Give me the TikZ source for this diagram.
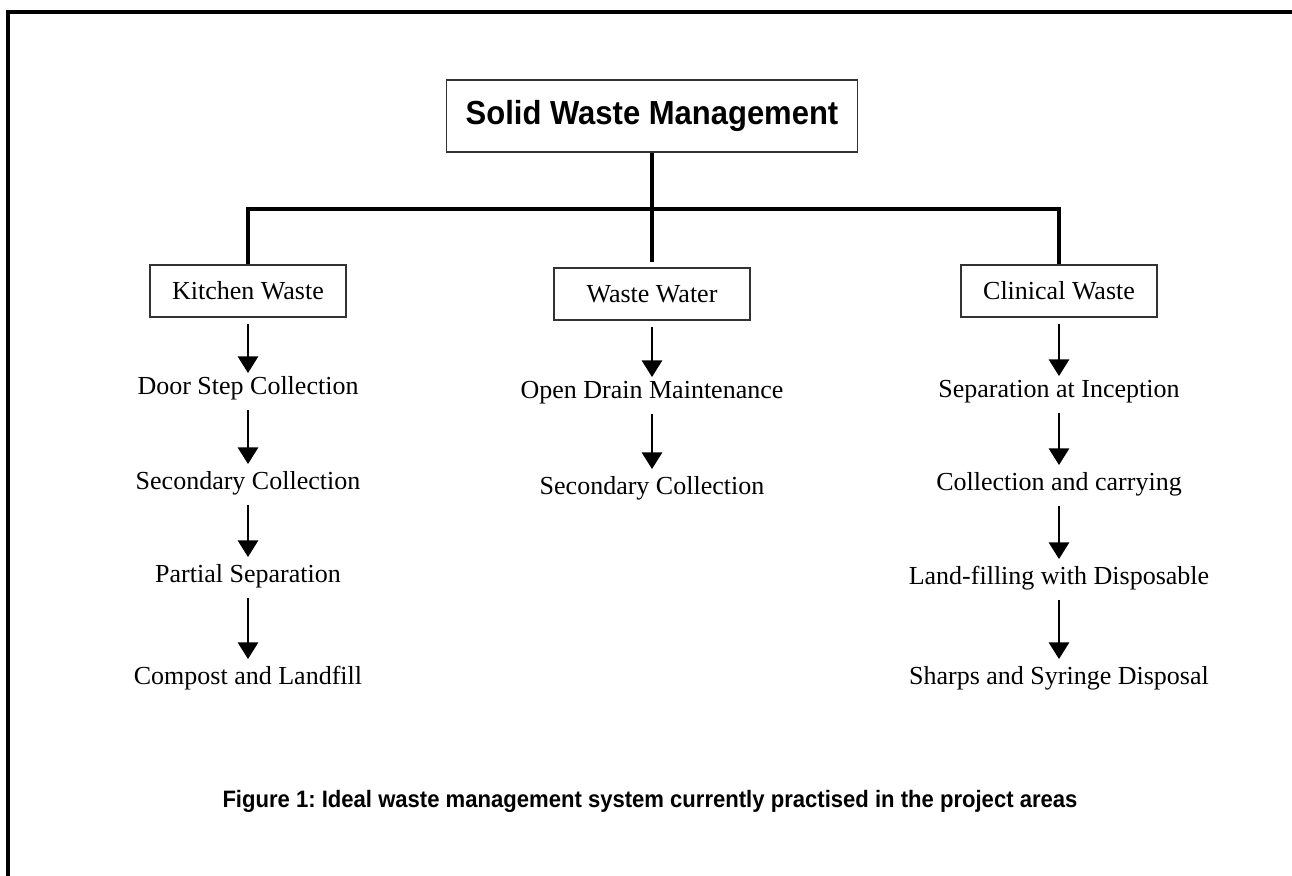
\documentclass[tikz,border=0pt]{standalone}
\usepackage{fontspec}
\setmainfont{Liberation Serif}
\newfontfamily\gothic[FakeStretch=0.93]{Liberation Sans}
\usetikzlibrary{arrows.meta,positioning}
\frenchspacing

\begin{document}
\begin{tikzpicture}[x=0.75pt,y=-0.75pt,
    wbox/.style={draw=black!80,line width=1pt,minimum width=147pt,minimum height=39pt,
      inner sep=0pt,font=\fontsize{19.5}{23}\selectfont},
    wstep/.style={inner sep=0pt,anchor=base,text height=14pt,text depth=4.5pt,
      font=\fontsize{19.5}{23}\selectfont},
    conn/.style={line width=2.3pt},
    flow/.style={line width=2.2pt,-{Triangle[width=15pt,length=12.5pt]},
      shorten <=7pt,shorten >=4.5pt}]
 \useasboundingbox (0,0) rectangle (1292,875);
 % page frame, cut off at right and bottom
 \draw[line width=2.3pt] (8,900) |- (1310,12);
 \node[draw=black!80,line width=1pt,minimum width=308pt,minimum height=54pt,
   font=\gothic\bfseries\fontsize{25}{30}\selectfont] (swm) at (652,116) {Solid Waste Management};
 \node[wbox] (kw) at (248,291) {Kitchen Waste};
 \node[wbox] (ww) at (652,294) {Waste Water};
 \node[wbox] (cw) at (1059,291) {Clinical Waste};
 \coordinate (bar) at (652,209);
 \draw[conn,shorten >=3.75pt] (swm.south) -- (ww.north);
 \draw[conn] (kw.north) |- (bar) -| (cw.north);
 % kitchen waste
 \node[wstep] (kw1) at (248,394) {Door Step Collection};
 \node[wstep] (kw2) at (248,489) {Secondary Collection};
 \node[wstep] (kw3) at (248,582) {Partial Separation};
 \node[wstep] (kw4) at (248,684) {Compost and Landfill};
 % waste water
 \node[wstep] (ww1) at (652,398) {Open Drain Maintenance};
 \node[wstep] (ww2) at (652,494) {Secondary Collection};
 % clinical waste
 \node[wstep] (cw1) at (1059,397) {Separation at Inception};
 \node[wstep] (cw2) at (1059,490) {Collection and carrying};
 \node[wstep] (cw3) at (1059,584) {Land-filling with Disposable};
 \node[wstep] (cw4) at (1059,684) {Sharps and Syringe Disposal};
 \path[flow,shorten <=4.5pt,shorten >=1.5pt] foreach \X in {kw,ww,cw} {(\X) edge (\X1)};
 \path[flow] foreach \X/\Y in {kw1/kw2,kw2/kw3,kw3/kw4,ww1/ww2,cw1/cw2,cw2/cw3,cw3/cw4}
   {(\X) edge (\Y)};
 \node[anchor=base,inner sep=0pt,font=\gothic\bfseries\fontsize{17.8}{21}\selectfont] (fig)
   at (650,807) {Figure 1: Ideal waste management system currently practised in the project areas};
\end{tikzpicture}
\end{document}
